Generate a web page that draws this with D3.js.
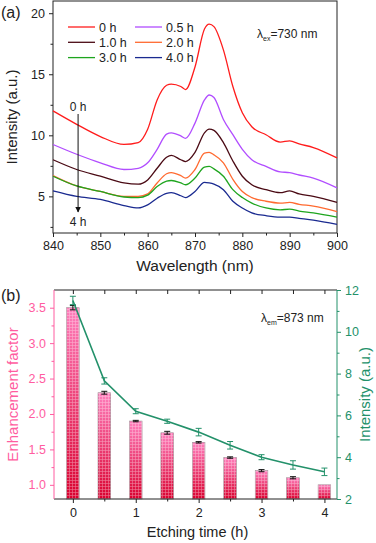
<!DOCTYPE html>
<html>
<head>
<meta charset="utf-8">
<script src="https://cdn.jsdelivr.net/npm/d3@7"></script>
<style>
  body { margin: 0; background: #fff; }
  svg { font-family: "Liberation Sans", Arial, sans-serif; }
</style>
</head>
<body>
<div id="chart"></div>
<script>
// panel (a) spectra
var wavelengths = [840,845,850,855,858,860,862,864,865,867,868,870,872,873,874,876,878,880,882,885,888,890,892,895,900];
var spec0h  = [12.0,10.9,9.9,9.25,9.4,10.5,12.9,14.1,14.2,14.0,13.75,15.6,18.7,19.1,18.9,17.0,14.0,11.85,10.7,10.05,9.45,9.55,9.3,9.0,8.15];
var spec05h = [9.25,8.45,7.75,7.2,7.3,7.75,8.85,10.1,10.2,9.95,9.75,11.0,12.9,13.3,13.1,11.3,10.05,8.85,8.0,7.45,7.0,6.95,6.75,6.5,5.7];
var spec1h  = [8.0,7.2,6.65,6.1,6.0,6.35,7.3,8.2,8.35,8.0,7.85,8.6,10.2,10.5,10.4,9.4,7.9,6.65,5.95,5.55,5.3,5.45,5.2,5.0,4.5];
var spec2h  = [6.7,5.85,5.4,5.0,5.0,5.2,6.1,6.85,6.95,6.7,6.5,7.2,8.55,8.6,8.4,7.75,6.4,5.4,4.9,4.6,4.45,4.5,4.35,4.2,3.75];
var spec3h  = [6.65,5.85,5.4,4.95,4.9,5.1,5.8,6.25,6.3,6.1,5.95,6.5,7.4,7.45,7.25,6.65,5.55,4.9,4.45,4.05,3.9,3.95,3.8,3.65,3.3];
var spec4h  = [5.45,5.0,4.75,4.25,4.05,4.3,4.85,5.25,5.3,5.05,4.9,5.4,6.15,6.1,6.0,5.55,4.6,4.05,3.65,3.42,3.3,3.3,3.2,3.05,2.7];
var seriesNames = ["0 h","0.5 h","1.0 h","2.0 h","3.0 h","4.0 h"];
var seriesColors = ["#ff1c1c","#b14dff","#4a0a14","#ff6a30","#1ea51e","#1a2a90"];
var xTicksA = [840,850,860,870,880,890,900];
var yTicksA = [5,10,15,20];

// panel (b)
var etchTime = [0,0.5,1,1.5,2,2.5,3,3.5,4];
var enhancement = [3.5,2.3,1.9,1.735,1.6,1.385,1.2,1.1,1.0];
var enhancementErr = [0.03,0.02,0.01,0.02,0.01,0.01,0.015,0.015,0];
var peakIntensity = [11.5,7.65,6.2,5.72,5.2,4.57,4.0,3.63,3.3];
var peakErr = [0.2,0.15,0.12,0.1,0.18,0.18,0.12,0.2,0.18];
var xTicksB = [0,1,2,3,4];
var yTicksLeft = [1.0,1.5,2.0,2.5,3.0,3.5];
var yTicksRight = [2,4,6,8,10,12];

var pink = "#ff5ca0", teal = "#23916a";

var svg = d3.select("#chart").append("svg")
    .attr("width", 376).attr("height", 543);

var defs = svg.append("defs");
var grad = defs.append("linearGradient").attr("id", "barGrad")
    .attr("x1", 0).attr("y1", 0).attr("x2", 0).attr("y2", 1);
grad.append("stop").attr("offset", "0%").attr("stop-color", "#ff7fbd");
grad.append("stop").attr("offset", "100%").attr("stop-color", "#d9002e");
var pat = defs.append("pattern").attr("id", "barGrid")
    .attr("width", 3).attr("height", 3).attr("patternUnits", "userSpaceOnUse");
pat.append("path").attr("d", "M0,0.5H3M0.5,0V3")
    .attr("stroke", "#fff").attr("stroke-width", 0.6).attr("opacity", 0.45);

// ---------- panel (a) ----------
var a = {left: 53, right: 337, top: 1, bottom: 233};
var xA = d3.scaleLinear().domain([840, 900]).range([a.left, a.right]);
var yA = d3.scaleLinear().domain([2, 21]).range([a.bottom, a.top]);

var gA = svg.append("g");
gA.append("rect").attr("x", a.left).attr("y", a.top)
    .attr("width", a.right - a.left).attr("height", a.bottom - a.top)
    .attr("fill", "none").attr("stroke", "#222").attr("stroke-width", 1);

var lineA = d3.line().curve(d3.curveMonotoneX)
    .x(function(d) { return xA(d[0]); })
    .y(function(d) { return yA(d[1]); });

[spec0h, spec05h, spec1h, spec2h, spec3h, spec4h].forEach(function(s, i) {
  gA.append("path")
      .datum(d3.zip(wavelengths, s))
      .attr("d", lineA)
      .attr("fill", "none")
      .attr("stroke", seriesColors[i])
      .attr("stroke-width", 1.3);
});

var axA = gA.append("g").attr("transform", "translate(0," + a.bottom + ")")
    .call(d3.axisBottom(xA).tickValues(xTicksA).tickSize(4).tickPadding(4).tickFormat(d3.format("d")));
gA.append("g").attr("transform", "translate(0," + a.bottom + ")")
    .call(d3.axisBottom(xA).tickValues(d3.range(845, 900, 10)).tickSize(2.5).tickFormat(""));
var ayA = gA.append("g").attr("transform", "translate(" + a.left + ",0)")
    .call(d3.axisLeft(yA).tickValues(yTicksA).tickSize(4).tickPadding(4));
gA.append("g").attr("transform", "translate(" + a.left + ",0)")
    .call(d3.axisLeft(yA).tickValues([2.5,7.5,12.5,17.5]).tickSize(2.5).tickFormat(""));
gA.selectAll(".domain").remove();
gA.selectAll(".tick line").attr("stroke", "#222");
gA.selectAll(".tick text").attr("font-size", 12.5).attr("fill", "#222");

// legend
var legend = gA.append("g");
seriesNames.forEach(function(n, i) {
  var col = i % 2, row = Math.floor(i / 2);
  var lx = col === 0 ? 68 : 135, ly = 27 + row * 15.3;
  legend.append("line").attr("x1", lx).attr("x2", lx + 27).attr("y1", ly).attr("y2", ly)
      .attr("stroke", seriesColors[i]).attr("stroke-width", 1.3);
  legend.append("text").attr("x", lx + 31).attr("y", ly + 4.5)
      .attr("font-size", 12.5).attr("fill", "#222").text(n);
});

var exc = gA.append("text").attr("x", 257).attr("y", 38).attr("font-size", 12).attr("fill", "#222");
exc.append("tspan").text("λ");
exc.append("tspan").attr("font-size", 7).attr("dy", 3).text("ex");
exc.append("tspan").attr("dy", -3).text("=730 nm");

// arrow 0 h -> 4 h
defs.append("marker").attr("id", "arrowHead").attr("viewBox", "0 0 10 10")
    .attr("refX", 9).attr("refY", 5).attr("markerWidth", 6).attr("markerHeight", 6)
    .attr("orient", "auto")
    .append("path").attr("d", "M0,0L10,5L0,10Z").attr("fill", "#111");
gA.append("line").attr("x1", xA(845.3)).attr("x2", xA(845.3)).attr("y1", 114).attr("y2", 212)
    .attr("stroke", "#111").attr("stroke-width", 1).attr("marker-end", "url(#arrowHead)");
gA.append("text").attr("x", xA(845.3)).attr("y", 111).attr("text-anchor", "middle")
    .attr("font-size", 12).attr("fill", "#222").text("0 h");
gA.append("text").attr("x", xA(845.3)).attr("y", 226).attr("text-anchor", "middle")
    .attr("font-size", 12).attr("fill", "#222").text("4 h");

gA.append("text").attr("transform", "translate(17," + ((a.top + a.bottom) / 2) + ") rotate(-90)")
    .attr("text-anchor", "middle").attr("font-size", 15).attr("fill", "#222").text("Intensity (a.u.)");
gA.append("text").attr("x", (a.left + a.right) / 2).attr("y", 271)
    .attr("text-anchor", "middle").attr("font-size", 15.5).attr("fill", "#222").text("Wavelength (nm)");
svg.append("text").attr("x", 1).attr("y", 18).attr("font-size", 16).attr("fill", "#222").text("(a)");

// ---------- panel (b) ----------
var b = {left: 54, right: 337, top: 290, bottom: 499};
var xB = d3.scaleLinear().domain([-0.3, 4.2]).range([b.left, b.right]);
var yL = d3.scaleLinear().domain([0.8, 3.75]).range([b.bottom, b.top]);
var yR = d3.scaleLinear().domain([2, 12]).range([b.bottom, b.top]);
var gB = svg.append("g");
var barW = xB(0.2) - xB(0);

var bars = gB.append("g");
etchTime.forEach(function(t, i) {
  bars.append("rect").attr("x", xB(t) - barW / 2).attr("y", yL(enhancement[i]))
      .attr("width", barW).attr("height", b.bottom - yL(enhancement[i]))
      .attr("fill", "url(#barGrad)").attr("stroke", "#9a8a90").attr("stroke-width", 0.6);
  bars.append("rect").attr("x", xB(t) - barW / 2).attr("y", yL(enhancement[i]))
      .attr("width", barW).attr("height", b.bottom - yL(enhancement[i]))
      .attr("fill", "url(#barGrid)");
  if (enhancementErr[i] > 0) {
    var e1 = yL(enhancement[i] + enhancementErr[i]), e2 = yL(enhancement[i] - enhancementErr[i]);
    var eb = bars.append("g").attr("stroke", "#111").attr("stroke-width", 1);
    eb.append("line").attr("x1", xB(t)).attr("x2", xB(t)).attr("y1", e1).attr("y2", e2);
    eb.append("line").attr("x1", xB(t) - 3).attr("x2", xB(t) + 3).attr("y1", e1).attr("y2", e1);
    eb.append("line").attr("x1", xB(t) - 3).attr("x2", xB(t) + 3).attr("y1", e2).attr("y2", e2);
  }
});

var lineB = d3.line()
    .x(function(d) { return xB(d[0]); })
    .y(function(d) { return yR(d[1]); });
gB.append("path").datum(d3.zip(etchTime, peakIntensity)).attr("d", lineB)
    .attr("fill", "none").attr("stroke", teal).attr("stroke-width", 1.6);
etchTime.forEach(function(t, i) {
  var e1 = yR(peakIntensity[i] + peakErr[i]), e2 = yR(peakIntensity[i] - peakErr[i]);
  var eb = gB.append("g").attr("stroke", teal).attr("stroke-width", 1);
  eb.append("line").attr("x1", xB(t)).attr("x2", xB(t)).attr("y1", e1).attr("y2", e2);
  eb.append("line").attr("x1", xB(t) - 3).attr("x2", xB(t) + 3).attr("y1", e1).attr("y2", e1);
  eb.append("line").attr("x1", xB(t) - 3).attr("x2", xB(t) + 3).attr("y1", e2).attr("y2", e2);
});

// frame
gB.append("line").attr("x1", b.left).attr("x2", b.right).attr("y1", b.top).attr("y2", b.top).attr("stroke", "#222");
gB.append("line").attr("x1", b.left).attr("x2", b.right).attr("y1", b.bottom).attr("y2", b.bottom).attr("stroke", "#222");
gB.append("line").attr("x1", b.left).attr("x2", b.left).attr("y1", b.top).attr("y2", b.bottom).attr("stroke", pink);
gB.append("line").attr("x1", b.right).attr("x2", b.right).attr("y1", b.top).attr("y2", b.bottom).attr("stroke", teal);

var axB = gB.append("g").attr("transform", "translate(0," + b.bottom + ")")
    .call(d3.axisBottom(xB).tickValues(xTicksB).tickSize(4).tickPadding(5).tickFormat(d3.format("d")));
gB.append("g").attr("transform", "translate(0," + b.bottom + ")")
    .call(d3.axisBottom(xB).tickValues([0.5,1.5,2.5,3.5]).tickSize(2.5).tickFormat(""));
gB.append("g").attr("transform", "translate(0," + b.top + ")")
    .call(d3.axisBottom(xB).tickValues(etchTime).tickSize(4).tickFormat(""));
gB.selectAll(".domain").remove();
gB.selectAll(".tick line").attr("stroke", "#222");
gB.selectAll(".tick text").attr("font-size", 12.5).attr("fill", "#222");

var ayL = gB.append("g").attr("transform", "translate(" + b.left + ",0)")
    .call(d3.axisLeft(yL).tickValues(yTicksLeft).tickSize(4).tickPadding(4).tickFormat(d3.format(".1f")));
var ayL2 = gB.append("g").attr("transform", "translate(" + b.left + ",0)")
    .call(d3.axisLeft(yL).tickValues([1.25,1.75,2.25,2.75,3.25]).tickSize(2.5).tickFormat(""));
[ayL, ayL2].forEach(function(g) {
  g.select(".domain").remove();
  g.selectAll(".tick line").attr("stroke", pink);
  g.selectAll(".tick text").attr("font-size", 12.5).attr("fill", pink);
});
var ayR = gB.append("g").attr("transform", "translate(" + b.right + ",0)")
    .call(d3.axisRight(yR).tickValues(yTicksRight).tickSize(4).tickPadding(4));
var ayR2 = gB.append("g").attr("transform", "translate(" + b.right + ",0)")
    .call(d3.axisRight(yR).tickValues([3,5,7,9,11]).tickSize(2.5).tickFormat(""));
[ayR, ayR2].forEach(function(g) {
  g.select(".domain").remove();
  g.selectAll(".tick line").attr("stroke", teal);
  g.selectAll(".tick text").attr("font-size", 12.5).attr("fill", teal);
});

var em = gB.append("text").attr("x", 261).attr("y", 322).attr("font-size", 12).attr("fill", "#222");
em.append("tspan").text("λ");
em.append("tspan").attr("font-size", 7).attr("dy", 3).text("em");
em.append("tspan").attr("dy", -3).text("=873 nm");

gB.append("text").attr("transform", "translate(18," + ((b.top + b.bottom) / 2) + ") rotate(-90)")
    .attr("text-anchor", "middle").attr("font-size", 15).attr("fill", pink).text("Enhancement factor");
gB.append("text").attr("transform", "translate(370," + ((b.top + b.bottom) / 2) + ") rotate(-90)")
    .attr("text-anchor", "middle").attr("font-size", 15).attr("fill", teal).text("Intensity (a.u.)");
gB.append("text").attr("x", (b.left + b.right) / 2 + 2).attr("y", 537)
    .attr("text-anchor", "middle").attr("font-size", 14.5).attr("fill", "#222").text("Etching time (h)");
svg.append("text").attr("x", 1).attr("y", 301).attr("font-size", 16).attr("fill", "#222").text("(b)");
</script>
</body>
</html>
